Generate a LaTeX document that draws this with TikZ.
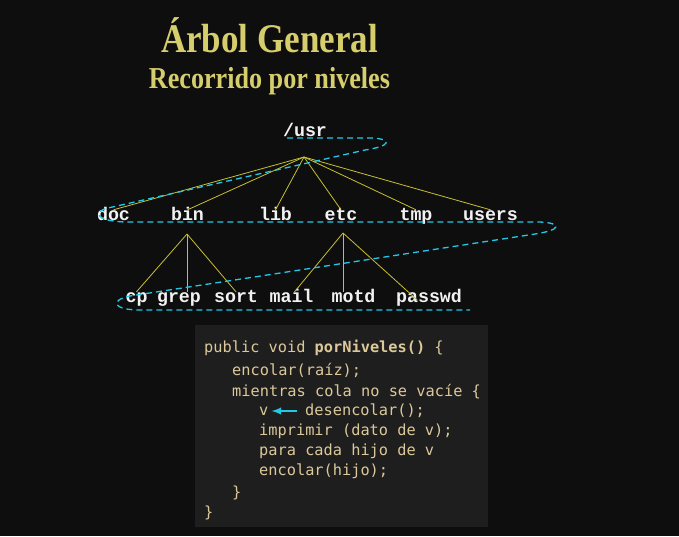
\documentclass[tikz,border=0pt]{standalone}
\usepackage{fontspec}
\usepackage{tikz}
\usetikzlibrary{arrows}
\newfontfamily\titlefont[FakeStretch=0.86]{Liberation Serif}
\newfontfamily\treefont{Liberation Mono}
\newfontfamily\codefont{DejaVu Sans Mono}
\definecolor{bgblack}{HTML}{0E0E0E}
\definecolor{codebg}{HTML}{1E1E1E}
\definecolor{titleyellow}{HTML}{D6CD6C}
\definecolor{branchyellow}{HTML}{C8C032}
\definecolor{routecyan}{HTML}{22C8E6}
\definecolor{codetan}{HTML}{DCC89A}
\definecolor{treewhite}{HTML}{F2F2F2}
\tikzset{
  dir/.style = {text=treewhite, font=\treefont\bfseries\fontsize{18.3}{20}\selectfont,
    inner sep=0pt, text height=10pt, text depth=3pt, anchor=base},
  branch/.style = {draw=branchyellow, line width=0.8pt},
  route/.style = {draw=routecyan, dash pattern=on 6pt off 4pt, line width=1.3pt},
  code/.style = {text=codetan, font=\codefont\fontsize{15.3}{18}\selectfont,
    inner sep=0pt, anchor=base west},
}

\begin{document}
\begin{tikzpicture}[x=1pt, y=-1pt]
  \fill [ bgblack ] (0,0) rectangle (679,536);
  % title
  \node (title) at (269.5,52) [anchor=base, text=titleyellow,
    font=\titlefont\bfseries\fontsize{40.7}{44}\selectfont] {Árbol General};
  \node (subtitle) at (269.5,88) [anchor=base, text=titleyellow,
    font=\titlefont\bfseries\fontsize{30.4}{34}\selectfont] {Recorrido por niveles};
  % tree
  \node (usr) at (305,136) [dir] {/usr};
  \node (doc) at (113.5,220) [dir] {doc};
  \node (bin) at (187.5,220) [dir] {bin};
  \node (lib) at (275.5,220) [dir] {lib};
  \node (etc) at (341,220) [dir] {etc};
  \node (tmp) at (416,220) [dir] {tmp};
  \node (users) at (490.5,220) [dir] {users};
  \node (cp) at (136.5,302) [dir] {cp};
  \node (grep) at (179,302) [dir] {grep};
  \node (sort) at (236,302) [dir] {sort};
  \node (mail) at (291.5,302) [dir] {mail};
  \node (motd) at (353.5,302) [dir] {motd};
  \node (passwd) at (429,302) [dir] {passwd};
  \coordinate (usr-fork) at (304,157);
  \coordinate (bin-fork) at (187,234);
  \coordinate (etc-fork) at (343,233);
  \foreach \child in {doc, bin, lib, etc, tmp, users}
    \draw [ branch ] (usr-fork) -- (\child.north);
  \draw [ branch ] (bin-fork) -- (cp.north);
  \draw [ branch ] (bin-fork) -- (bin-fork |- grep.north);
  \draw [ branch ] (bin-fork) -- (sort.north);
  \draw [ branch ] (etc-fork) -- ([xshift=3pt]mail.north);
  \draw [ branch ] (etc-fork) -- (etc-fork |- motd.north);
  \draw [ branch ] (etc-fork) -- ([xshift=-12pt, yshift=-8pt]passwd.north);
  % level order route
  \draw [ route ] (287,138) -- (372,138)
    .. controls (392,139) and (392,146) .. (365,150) -- (108,208)
    .. controls (92,212) and (96,221) .. (125,222) -- (540,222)
    .. controls (562,223) and (562,230) .. (535,234) -- (130,296)
    .. controls (110,300) and (112,310) .. (140,310) -- (470,310);
  % code
  \node (codebox) at (341.5,426) [fill=codebg, minimum width=293pt,
    minimum height=202pt, inner sep=0pt] {};
  \node (l1) at (204,352) [code] {public void \textbf{porNiveles()} \{};
  \node (l2) at (232,375) [code] {encolar(raíz);};
  \node (l3) at (232,396) [code] {mientras cola no se vacíe \{};
  \node (v) at (259,415) [code] {v};
  \node (deq) at (305,415) [code] {desencolar();};
  \node (l5) at (259,435) [code] {imprimir (dato de v);};
  \node (l6) at (259,455) [code] {para cada hijo de v};
  \node (l7) at (259,475) [code] {encolar(hijo);};
  \node (l8) at (232,497) [code] {\}};
  \node (l9) at (204,517) [code] {\}};
  \draw [ -latex, routecyan, line width=2.2pt, shorten <=8pt, shorten >=3pt ]
    ([yshift=4pt]deq.base west) to ([yshift=4pt]v.base east);
\end{tikzpicture}
\end{document}
